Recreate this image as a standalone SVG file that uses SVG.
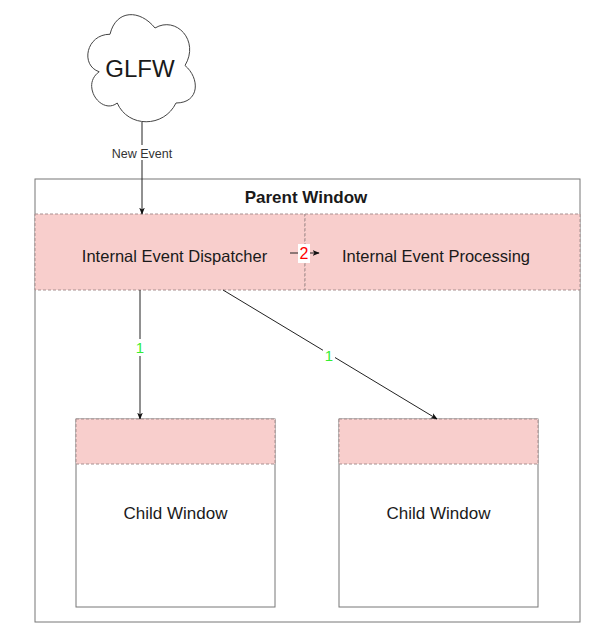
<svg xmlns="http://www.w3.org/2000/svg" width="605" height="644" viewBox="0 0 605 644">
<style>
text{font-family:"Liberation Sans",Arial,sans-serif;fill:#1a1a1a}
.box{fill:#fff;stroke:#777;stroke-width:1}
.pink{fill:#f8cecc;stroke:#a89090;stroke-width:1;stroke-dasharray:3 2}
.conn{fill:none;stroke:#222;stroke-width:1}
.lbl{fill:#fff}
</style>
<defs>
<marker id="arr" viewBox="0 0 10 10" refX="9" refY="5" markerWidth="7" markerHeight="7" markerUnits="userSpaceOnUse" orient="auto">
<path d="M0,1 L10,5 L0,9 L2.5,5 Z" fill="#111"/>
</marker>
</defs>
<rect width="605" height="644" fill="#fff"/>
<g id="glfw">
<path d="M110,34.25 C86,34.25 80,65.5 99.2,71.75 C80,85.5 101.6,115.5 117.2,103 C128,128 164,128 176,103 C200,103 200,78 185,65.5 C200,40.5 176,15.5 155,28 C140,9.25 116,9.25 110,34.25 Z" fill="#fff" stroke="#444" stroke-width="1"/>
<text x="140" y="77" font-size="24" text-anchor="middle">GLFW</text>
</g>
<g id="parent-window">
<rect class="box" x="35" y="179" width="545" height="443"/>
<text x="306" y="203" font-size="17" font-weight="bold" text-anchor="middle">Parent Window</text>
</g>
<g id="dispatcher">
<rect class="pink" x="35" y="214" width="270" height="76"/>
<text x="174.5" y="262" font-size="16.5" text-anchor="middle">Internal Event Dispatcher</text>
</g>
<g id="processing">
<rect class="pink" x="305" y="214" width="275" height="76"/>
<text x="436" y="262" font-size="16.5" text-anchor="middle">Internal Event Processing</text>
</g>
<g id="child-left">
<rect class="box" x="76" y="419" width="199" height="188"/>
<rect class="pink" x="76" y="419" width="199" height="45"/>
<text x="175.5" y="519" font-size="17" text-anchor="middle">Child Window</text>
</g>
<g id="child-right">
<rect class="box" x="339" y="419" width="199" height="188"/>
<rect class="pink" x="339" y="419" width="199" height="45"/>
<text x="438.5" y="519" font-size="17" text-anchor="middle">Child Window</text>
</g>
<g id="connectors">
<line class="conn" x1="142" y1="122" x2="142" y2="214" marker-end="url(#arr)"/>
<rect class="lbl" x="107" y="145" width="70" height="15"/>
<text x="142" y="157.5" font-size="12.5" text-anchor="middle" style="fill:#333">New Event</text>
<line class="conn" x1="290" y1="253" x2="319" y2="253" marker-end="url(#arr)"/>
<rect x="298" y="244" width="12" height="19" fill="#fff"/>
<text x="304" y="259" font-size="16" text-anchor="middle" style="fill:#ff0000">2</text>
<line class="conn" x1="140" y1="290" x2="140" y2="419" stroke="#555" marker-end="url(#arr)"/>
<rect x="134" y="339" width="12" height="17" fill="#fff"/>
<text x="140" y="353" font-size="15" text-anchor="middle" style="fill:#33ee33">1</text>
<line class="conn" x1="223" y1="290" x2="437" y2="419" marker-end="url(#arr)"/>
<rect x="323" y="346" width="12" height="17" fill="#fff"/>
<text x="329" y="361" font-size="15" text-anchor="middle" style="fill:#33ee33">1</text>
</g>
</svg>
